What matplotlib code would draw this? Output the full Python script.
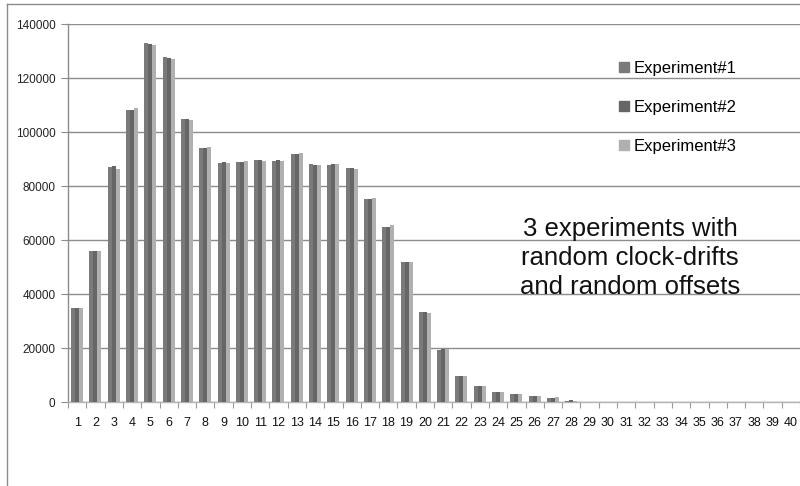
import matplotlib
matplotlib.use("Agg")
import matplotlib.pyplot as plt
import numpy as np
from matplotlib.lines import Line2D

categories = list(range(1, 41))
exp1 = [34700, 55900, 87100, 108000, 132800, 127600, 104800, 94000, 88400, 88900,
        89600, 89300, 91800, 88300, 87900, 86800, 75100, 64900, 51700, 33200,
        19300, 9500, 5900, 3800, 3100, 2300, 1600, 500] + [0] * 12
exp2 = [34900, 55900, 87400, 108000, 132500, 127300, 104800, 94000, 88900, 88900,
        89600, 89600, 91800, 87800, 88300, 86800, 75300, 65000, 51700, 33200,
        19500, 9500, 5900, 3800, 3100, 2300, 1600, 600] + [0] * 12
exp3 = [34900, 55900, 86400, 108800, 132300, 126900, 104400, 94400, 88500, 89300,
        89300, 89300, 92200, 87600, 88300, 86400, 75400, 65700, 51700, 32900,
        19600, 9500, 5900, 3800, 3100, 2300, 1700, 500] + [0] * 12
series_names = ["Experiment#1", "Experiment#2", "Experiment#3"]
yticks = list(range(0, 140001, 20000))
note = "3 experiments with\nrandom clock-drifts\nand random offsets"

colors = ["#7a7a7a", "#666666", "#b0b0b0"]

W, H, DPI = 800, 486, 100
fig = plt.figure(figsize=(W / DPI, H / DPI), dpi=DPI)
ax = fig.add_axes([68 / W, 1 - 402 / H, 732 / W, 378 / H])

x = np.array(categories, dtype=float)
bw = 0.22
for i, (vals, c) in enumerate(zip([exp1, exp2, exp3], colors)):
    ax.bar(x + (i - 1) * bw, vals, width=bw, color=c, linewidth=0, zorder=3)

ax.set_xlim(0.5, 40.5)
ax.set_ylim(0, 140000)
ax.set_yticks(yticks)
ax.set_yticklabels([str(v) for v in yticks])
ax.yaxis.grid(True, color="#8c8c8c", linewidth=1.0, zorder=0)
ax.set_axisbelow(True)

ax.set_xticks(x)
ax.set_xticklabels([str(c) for c in categories])
ax.set_xticks(np.arange(0.5, 41, 1.0), minor=True)
ax.tick_params(axis="x", which="major", length=0, pad=11, labelsize=9,
               labelcolor="#111111")
ax.tick_params(axis="x", which="minor", length=4, width=0.8, color="#999999",
               direction="out")
for lab in ax.get_xticklabels():
    lab.set_fontfamily(["Liberation Sans Narrow", "Liberation Sans", "DejaVu Sans"])
ax.tick_params(axis="y", length=5, width=0.8, color="#8c8c8c", pad=4,
               labelsize=8.5, labelcolor="#222222")
for lab in ax.get_yticklabels():
    lab.set_fontfamily(["Liberation Sans", "DejaVu Sans"])

for s in ["top", "right"]:
    ax.spines[s].set_visible(False)
ax.spines["left"].set_color("#8c8c8c")
ax.spines["bottom"].set_color("#b5b5b5")
ax.spines["left"].set_linewidth(1.0)
ax.spines["bottom"].set_linewidth(1.0)

handles = [plt.Rectangle((0, 0), 1, 1, color=c) for c in colors]
leg = fig.legend(handles, series_names, loc="upper left",
                 bbox_to_anchor=(612 / W, 1 - 54 / H), frameon=False,
                 prop={"family": ["Liberation Sans", "DejaVu Sans"], "size": 12},
                 handlelength=0.6, handleheight=0.6, handletextpad=0.3,
                 labelspacing=1.45, borderaxespad=0)

fig.text(630 / W, 1 - 258 / H, note, ha="center", va="center",
         fontsize=18.5, family=["Liberation Sans", "DejaVu Sans"],
         color="#111111", linespacing=1.25)

# chart border (top and left edges visible)
fig.add_artist(Line2D([7 / W, 7 / W], [0, 1 - 4 / H], transform=fig.transFigure,
                      color="#8c8c8c", linewidth=1.0))
fig.add_artist(Line2D([7 / W, 1], [1 - 4 / H, 1 - 4 / H], transform=fig.transFigure,
                      color="#8c8c8c", linewidth=1.0))

fig.savefig("out.png", dpi=DPI)
